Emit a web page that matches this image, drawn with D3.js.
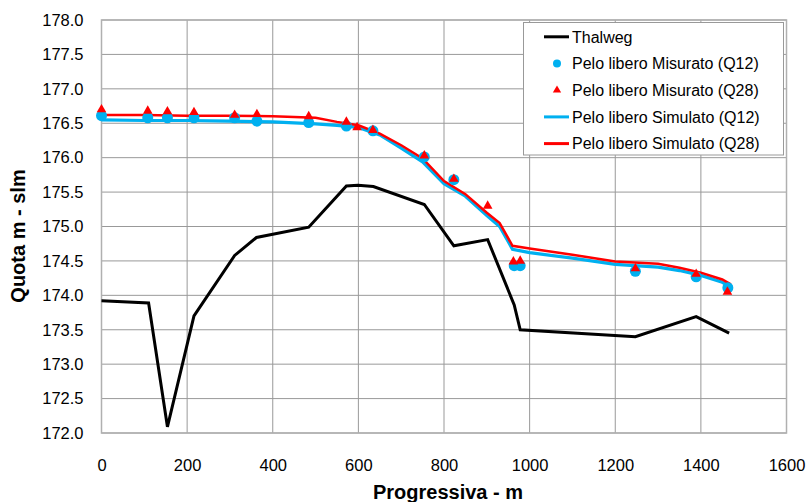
<!DOCTYPE html>
<html>
<head>
<meta charset="utf-8">
<script src="https://cdn.jsdelivr.net/npm/d3@7"></script>
<style>
  body { margin: 0; background: #fff; }
  svg { display: block; font-family: "Liberation Sans", Arial, sans-serif; }
</style>
</head>
<body>
<svg id="chart" width="808" height="502"></svg>
<script>
// thalweg (bed profile)
const thalwegX = [0, 110, 154, 216, 311, 362, 484, 572, 599, 635, 754, 823, 902, 964, 978, 1247, 1389, 1466];
const thalwegY = [173.92, 173.89, 172.09, 173.70, 174.58, 174.84, 174.99, 175.59, 175.60, 175.58, 175.32, 174.72, 174.81, 173.86, 173.50, 173.40, 173.69, 173.45];

// measured water surface
const misQ12X = [0, 108, 154, 216, 311, 363, 484, 572, 634, 754, 823, 964, 978, 1247, 1389, 1463];
const misQ12Y = [176.61, 176.58, 176.58, 176.58, 176.58, 176.53, 176.51, 176.46, 176.39, 176.01, 175.68, 174.43, 174.43, 174.35, 174.27, 174.11];
const misQ28X = [0, 108, 154, 216, 311, 363, 484, 572, 597, 634, 754, 823, 902, 962, 978, 1247, 1389, 1462];
const misQ28Y = [176.70, 176.68, 176.67, 176.66, 176.62, 176.63, 176.60, 176.52, 176.44, 176.40, 176.03, 175.69, 175.30, 174.49, 174.50, 174.39, 174.31, 174.05];

// simulated water surface
const simX = [0, 100, 200, 300, 400, 500, 550, 600, 650, 700, 750, 800, 850, 900, 930, 960, 1000, 1100, 1200, 1300, 1350, 1400, 1450, 1470];
const simQ12Y = [176.55, 176.54, 176.54, 176.53, 176.52, 176.49, 176.47, 176.44, 176.33, 176.14, 175.94, 175.62, 175.44, 175.16, 175.00, 174.67, 174.62, 174.54, 174.45, 174.41, 174.36, 174.29, 174.19, 174.12];
const simQ28Y = [176.62, 176.62, 176.61, 176.61, 176.60, 176.58, 176.52, 176.47, 176.35, 176.18, 175.99, 175.66, 175.47, 175.20, 175.05, 174.72, 174.68, 174.59, 174.49, 174.46, 174.40, 174.33, 174.23, 174.16];

const xTicks = [0, 200, 400, 600, 800, 1000, 1200, 1400, 1600];
const yTicks = [172.0, 172.5, 173.0, 173.5, 174.0, 174.5, 175.0, 175.5, 176.0, 176.5, 177.0, 177.5, 178.0];

const legendLabels = ['Thalweg', 'Pelo libero Misurato (Q12)', 'Pelo libero Misurato (Q28)',
  'Pelo libero Simulato (Q12)', 'Pelo libero Simulato (Q28)'];

const blue = '#00b0f0';
const red = '#ff0000';

const svg = d3.select('#chart');
const plotL = 101.5, plotR = 786.5, plotT = 20, plotB = 433;

const x = d3.scaleLinear().domain([0, 1600]).range([plotL, plotR]);
const y = d3.scaleLinear().domain([172, 178]).range([plotB, plotT]);

// grid
svg.append('g')
  .selectAll('line')
  .data(yTicks)
  .join('line')
  .attr('x1', plotL).attr('x2', plotR)
  .attr('y1', (d) => y(d)).attr('y2', (d) => y(d))
  .attr('stroke', '#999').attr('stroke-width', 1);
svg.append('g')
  .selectAll('line')
  .data(xTicks)
  .join('line')
  .attr('y1', plotT).attr('y2', plotB)
  .attr('x1', (d) => x(d)).attr('x2', (d) => x(d))
  .attr('stroke', '#999').attr('stroke-width', 1);
svg.append('rect')
  .attr('x', plotL).attr('y', plotT)
  .attr('width', plotR - plotL).attr('height', plotB - plotT)
  .attr('fill', 'none').attr('stroke', '#b0b0b0').attr('stroke-width', 1.5);

// axes labels via d3 axes
const yAxis = svg.append('g')
  .attr('transform', `translate(${plotL},0)`)
  .call(d3.axisLeft(y).tickValues(yTicks).tickFormat(d3.format('.1f')).tickSize(0).tickPadding(18));
yAxis.select('.domain').remove();
yAxis.selectAll('text').attr('font-size', 16.5).attr('fill', '#000')
  .attr('font-family', '"Liberation Sans", Arial, sans-serif');

const xAxis = svg.append('g')
  .attr('transform', `translate(0,${plotB})`)
  .call(d3.axisBottom(x).tickValues(xTicks).tickFormat(d3.format('d')).tickSize(0).tickPadding(26));
xAxis.select('.domain').remove();
xAxis.selectAll('text').attr('font-size', 16.5).attr('fill', '#000')
  .attr('font-family', '"Liberation Sans", Arial, sans-serif');

svg.append('text')
  .attr('x', 448).attr('y', 498.5)
  .attr('text-anchor', 'middle')
  .attr('font-size', 20).attr('font-weight', 'bold')
  .text('Progressiva - m');

svg.append('text')
  .attr('transform', 'translate(25,236) rotate(-90)')
  .attr('text-anchor', 'middle')
  .attr('font-size', 20).attr('font-weight', 'bold')
  .text('Quota m - slm');

// lines
const line = d3.line().x((d) => x(d[0])).y((d) => y(d[1]));

svg.append('path')
  .attr('d', line(d3.zip(thalwegX, thalwegY)))
  .attr('fill', 'none').attr('stroke', '#000').attr('stroke-width', 3);
svg.append('path')
  .attr('d', line(d3.zip(simX, simQ12Y)))
  .attr('fill', 'none').attr('stroke', blue).attr('stroke-width', 3.2);
svg.append('path')
  .attr('d', line(d3.zip(simX, simQ28Y)))
  .attr('fill', 'none').attr('stroke', red).attr('stroke-width', 2.5);

// markers
svg.append('g')
  .selectAll('circle')
  .data(d3.zip(misQ12X, misQ12Y))
  .join('circle')
  .attr('cx', (d) => x(d[0])).attr('cy', (d) => y(d[1]))
  .attr('r', 5.5).attr('fill', blue);

const tri = d3.symbol().type(d3.symbolTriangle).size(40);
svg.append('g')
  .selectAll('path')
  .data(d3.zip(misQ28X, misQ28Y))
  .join('path')
  .attr('d', tri)
  .attr('transform', (d) => `translate(${x(d[0])},${y(d[1])})`)
  .attr('fill', red);

// legend
const lg = svg.append('g');
lg.append('rect')
  .attr('x', 523.5).attr('y', 22.5).attr('width', 260).attr('height', 132.5)
  .attr('fill', '#fff').attr('stroke', '#999').attr('stroke-width', 1);
const rows = lg.selectAll('g')
  .data(legendLabels)
  .join('g')
  .attr('transform', (d, i) => `translate(0,${36.8 + i * 26.7})`);
rows.append('text')
  .attr('x', 572).attr('y', 0).attr('dy', '0.36em')
  .attr('font-size', 16).attr('fill', '#000')
  .text((d) => d);
rows.each(function (d, i) {
  const g = d3.select(this);
  if (i === 0 || i === 3 || i === 4) {
    g.append('line')
      .attr('x1', 544).attr('x2', 569).attr('y1', 0).attr('y2', 0)
      .attr('stroke', i === 0 ? '#000' : i === 3 ? blue : red)
      .attr('stroke-width', 3);
  } else if (i === 1) {
    g.append('circle').attr('cx', 557).attr('cy', 0).attr('r', 4).attr('fill', blue);
  } else {
    g.append('path').attr('d', d3.symbol().type(d3.symbolTriangle).size(30))
      .attr('transform', 'translate(557,0)').attr('fill', red);
  }
});
</script>
</body>
</html>
